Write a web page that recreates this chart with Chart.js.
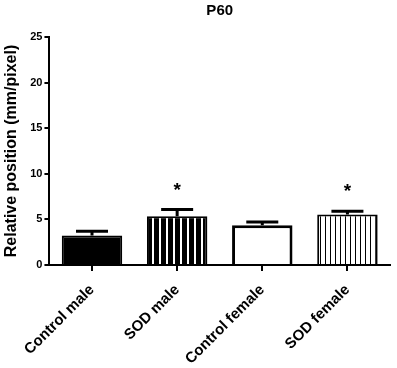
<!DOCTYPE html>
<html>
<head>
<meta charset="utf-8">
<script src="https://cdn.jsdelivr.net/npm/chart.js@4/dist/chart.umd.min.js"></script>
<style>
  html, body { margin: 0; padding: 0; background: #fff; }
  #wrap { width: 397px; height: 368px; }
</style>
</head>
<body>
<div id="wrap"><canvas id="p60chart" width="397" height="368"></canvas></div>
<script>
// Values
const categories = ['Control male', 'SOD male', 'Control female', 'SOD female'];
const means = [3.24, 5.35, 4.37, 5.53];
const errors = [0.47, 0.73, 0.35, 0.37];
const marks = ['', '*', '', '*'];
const yTicks = [0, 5, 10, 15, 20, 25];

const FONT = "'Liberation Sans', Arial, sans-serif";

// Stripe fills used by the SOD bars
function stripes(period, lineW, bg, fg) {
    const c = document.createElement('canvas');
    c.width = period;
    c.height = 4;
    const g = c.getContext('2d');
    g.fillStyle = bg;
    g.fillRect(0, 0, period, 4);
    g.fillStyle = fg;
    g.fillRect(0, 0, lineW, 4);
    return g.createPattern(c, 'repeat');
}

const ctx = document.getElementById('p60chart').getContext('2d');

// Error bars (upper only) and significance stars
const errorBars = {
    id: 'errorBars',
    afterDatasetsDraw(chart) {
        const meta = chart.getDatasetMeta(0);
        const y = chart.scales.y;
        const c = chart.ctx;
        c.save();
        c.strokeStyle = '#000';
        c.lineWidth = 3;
        meta.data.forEach((bar, i) => {
            const top = y.getPixelForValue(means[i]);
            const hi = y.getPixelForValue(means[i] + errors[i]);
            c.beginPath();
            c.moveTo(bar.x, top);
            c.lineTo(bar.x, hi);
            c.moveTo(bar.x - 16, hi);
            c.lineTo(bar.x + 16, hi);
            c.stroke();
            if (marks[i]) {
                c.fillStyle = '#000';
                c.font = 'bold 19px ' + FONT;
                c.textAlign = 'center';
                c.textBaseline = 'alphabetic';
                c.fillText(marks[i], bar.x, hi - 14);
            }
        });
        c.restore();
    }
};

window.p60Chart = new Chart(ctx, {
    type: 'bar',
    data: {
        labels: categories,
        datasets: [{
            data: means,
            backgroundColor: [
                '#000',
                stripes(7, 5, '#fff', '#000'),
                '#fff',
                stripes(5, 1, '#fff', '#000')
            ],
            borderColor: '#000',
            borderWidth: [2, 2, 3, 2],
            barPercentage: 0.71,
            categoryPercentage: 1
        }]
    },
    options: {
        responsive: false,
        animation: false,
        layout: {
            padding: { top: 0, right: 7, left: 0, bottom: 0 }
        },
        plugins: {
            legend: { display: false },
            tooltip: { enabled: false },
            title: {
                display: true,
                text: 'P60',
                color: '#000',
                fullSize: false,
                font: { family: FONT, size: 15, weight: 'bold' },
                padding: { top: 2, bottom: 17 }
            }
        },
        scales: {
            x: {
                grid: {
                    display: true,
                    offset: false,
                    drawOnChartArea: false,
                    drawTicks: true,
                    tickLength: 6,
                    color: '#000',
                    lineWidth: 2
                },
                border: { display: true, color: '#000', width: 2 },
                ticks: {
                    color: '#000',
                    minRotation: 45,
                    maxRotation: 45,
                    padding: 10,
                    font: { family: FONT, size: 15, weight: 'bold' }
                },
                afterFit: (scale) => { scale.height = 103; }
            },
            y: {
                min: 0,
                max: 25,
                afterBuildTicks: (scale) => {
                    scale.ticks = yTicks.map(v => ({ value: v }));
                },
                grid: {
                    display: true,
                    drawOnChartArea: false,
                    drawTicks: true,
                    tickLength: 5,
                    color: '#000',
                    lineWidth: 2
                },
                border: { display: true, color: '#000', width: 2 },
                ticks: {
                    color: '#000',
                    padding: 2,
                    font: { family: FONT, size: 11, weight: 'bold' }
                },
                title: {
                    display: true,
                    text: 'Relative position (mm/pixel)',
                    color: '#000',
                    font: { family: FONT, size: 16, weight: 'bold' },
                    padding: { top: 2, bottom: 7 }
                }
            }
        }
    },
    plugins: [errorBars]
});
</script>
</body>
</html>
